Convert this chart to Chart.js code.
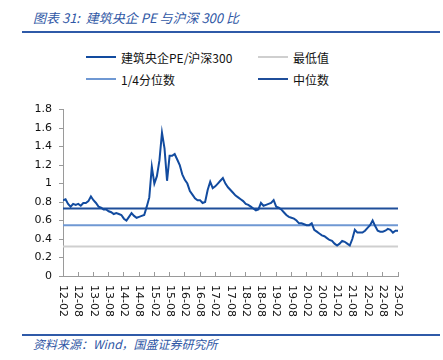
<!DOCTYPE html>
<html>
<head>
<meta charset="utf-8">
<script src="https://cdn.jsdelivr.net/npm/chart.js@4.4.0/dist/chart.umd.min.js"></script>
<style>
  body { margin: 0; width: 443px; height: 360px; background: #fff; position: relative; overflow: hidden; font-family: "Noto Sans CJK SC", sans-serif; }
  #title { position: absolute; left: 33px; top: 8px; font-size: 13px; font-style: italic; color: #2f57a5; white-space: nowrap; }
  .rule { position: absolute; left: 22px; width: 418px; height: 2px; background: #2f5aa8; }
  #legend { position: absolute; left: 86px; top: 47px; display: grid; grid-template-columns: 172px 150px; row-gap: 2px; font-size: 12px; color: #111; }
  #legend div { display: flex; align-items: center; height: 20px; white-space: nowrap; }
  #legend span.ln { display: inline-block; width: 30px; height: 2px; margin-right: 5px; }
  #source { position: absolute; left: 33px; top: 335px; font-size: 12px; font-style: italic; color: #2f57a5; white-space: nowrap; }
  #wrap { position: absolute; left: 0; top: 96px; width: 443px; height: 230px; }
</style>
</head>
<body>
<div id="title">图表 31:&nbsp; 建筑央企 PE 与沪深 300 比</div>
<div class="rule" style="top:31px"></div>
<div id="legend"></div>
<div id="wrap"><canvas id="my-chart"></canvas></div>
<div class="rule" style="top:334px"></div>
<div id="source">资料来源：Wind，国盛证券研究所</div>

<script>
'use strict'
///data, monthly from 12-02 to 23-02///
let xTickLabels = ['12-02','12-08','13-02','13-08','14-02','14-08','15-02','15-08','16-02','16-08','17-02','17-08',
  '18-02','18-08','19-02','19-08','20-02','20-08','21-02','21-08','22-02','22-08','23-02']
let yTickLabels = ['0','0.2','0.4','0.6','0.8','1','1.2','1.4','1.6','1.8']

let ratio = [
  0.82,0.83,0.78,0.75,0.78,0.77,0.78,0.76,0.79,0.79,0.81,0.86,//12-02 .. 13-01
  0.82,0.79,0.75,0.74,0.72,0.72,0.70,0.69,0.67,0.68,0.67,0.66,//13
  0.62,0.60,0.64,0.68,0.65,0.63,0.64,0.65,0.66,0.75,0.85,1.18,//14
  1.00,1.08,1.25,1.55,1.38,1.03,1.30,1.30,1.32,1.26,1.20,1.10,//15
  1.04,1.00,0.92,0.88,0.84,0.82,0.82,0.79,0.80,0.93,1.02,0.95,//16
  0.97,1.00,1.03,1.06,1.00,0.96,0.93,0.90,0.87,0.85,0.83,0.81,//17
  0.78,0.77,0.75,0.73,0.71,0.72,0.79,0.76,0.77,0.78,0.79,0.82,//18
  0.75,0.74,0.72,0.69,0.66,0.64,0.63,0.62,0.60,0.57,0.57,0.56,//19
  0.55,0.55,0.57,0.50,0.48,0.46,0.44,0.43,0.41,0.39,0.38,0.35,//20
  0.33,0.35,0.38,0.37,0.35,0.33,0.40,0.50,0.47,0.47,0.47,0.49,//21
  0.52,0.55,0.60,0.54,0.49,0.48,0.48,0.49,0.51,0.50,0.47,0.49,//22
  0.49//23-02
]
let minValue = 0.32
let quarterValue = 0.55
let medianValue = 0.73

let seriesNames = ['建筑央企PE/沪深300', '最低值', '1/4分位数', '中位数']
let seriesColors = ['#124b9f', '#cfcfcf', '#6f98d3', '#1f4e9a']

let lastIdx = ratio.length - 1
function flatLine(v) {
  return [{ x: 0, y: v }, { x: lastIdx, y: v }]
}

///custom x labels, rotated clockwise like the reference///
let xLabelPlugin = {
  id: 'xLabels',
  afterDraw(chart) {
    let xs = chart.scales.x
    let ctx = chart.ctx
    ctx.save()
    ctx.font = '11px "DejaVu Sans"'
    ctx.fillStyle = '#111'
    ctx.textAlign = 'left'
    ctx.textBaseline = 'middle'
    xs.ticks.forEach((t, i) => {
      let px = xs.getPixelForValue(t.value)
      ctx.save()
      ctx.translate(px, chart.chartArea.bottom + 9)
      ctx.rotate(Math.PI / 2)
      ctx.fillText(xTickLabels[i] || '', 0, 0)
      ctx.restore()
    })
    ctx.restore()
  }
}

let ctx = document.getElementById('my-chart').getContext('2d')
let myChart = new Chart(ctx, {
  type: 'line',
  data: {
    datasets: [
      { label: seriesNames[0], data: ratio.map((v, i) => ({ x: i, y: v })), borderColor: seriesColors[0], borderWidth: 2 },
      { label: seriesNames[1], data: flatLine(minValue), borderColor: seriesColors[1], borderWidth: 2 },
      { label: seriesNames[2], data: flatLine(quarterValue), borderColor: seriesColors[2], borderWidth: 2 },
      { label: seriesNames[3], data: flatLine(medianValue), borderColor: seriesColors[3], borderWidth: 2 }
    ]
  },
  options: {
    responsive: true,
    maintainAspectRatio: false,
    animation: false,
    elements: { point: { radius: 0 }, line: { tension: 0 } },
    layout: { padding: { left: 0, right: 45, top: 13, bottom: 0 } },
    plugins: { legend: { display: false }, tooltip: { enabled: false } },
    scales: {
      x: {
        type: 'linear',
        min: 0,
        max: lastIdx,
        ticks: { display: false, stepSize: 6 },
        grid: { drawOnChartArea: false, drawTicks: true, tickLength: -4, color: '#9a9a9a' },
        border: { color: '#9a9a9a', width: 1 },
        afterFit(scale) { scale.height = 50 }
      },
      y: {
        min: 0,
        max: 1.8,
        ticks: {
          stepSize: 0.2,
          padding: 7,
          color: '#111',
          font: { family: 'DejaVu Sans', size: 11 },
          callback: (v, i) => yTickLabels[i]
        },
        grid: { drawOnChartArea: false, drawTicks: true, tickLength: 4, color: '#9a9a9a' },
        border: { color: '#9a9a9a', width: 1 },
        afterFit(scale) { scale.width = 63 }
      }
    }
  },
  plugins: [xLabelPlugin]
})

///html legend from the datasets, 2 columns///
let legendBox = document.getElementById('legend')
let order = [0, 1, 2, 3]
order.forEach(i => {
  let ds = myChart.data.datasets[i]
  let item = document.createElement('div')
  item.innerHTML = '<span class="ln" style="background:' + ds.borderColor + '"></span>' + ds.label
  legendBox.appendChild(item)
})
</script>
</body>
</html>
